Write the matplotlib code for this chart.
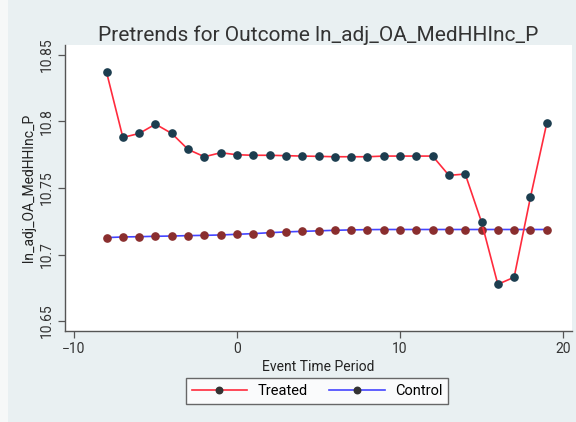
import matplotlib
matplotlib.use("Agg")
import matplotlib.pyplot as plt
from matplotlib.patches import Rectangle

plt.rcParams['font.family'] = ['Roboto', 'DejaVu Sans']

event_time = list(range(-8, 20))
treated = [10.837, 10.788, 10.791, 10.798, 10.791, 10.779, 10.7735, 10.7765,
           10.775, 10.7746, 10.7746, 10.7743, 10.774, 10.7738, 10.7735, 10.7735,
           10.7735, 10.774, 10.774, 10.774, 10.774, 10.7595, 10.7605, 10.7244,
           10.6776, 10.6829, 10.743, 10.7986]
control = [10.7127, 10.7132, 10.7134, 10.7137, 10.7139, 10.7142, 10.7144, 10.7147,
           10.7152, 10.7157, 10.7164, 10.7170, 10.7174, 10.7178, 10.7182, 10.7185,
           10.7187, 10.7188, 10.7188, 10.7188, 10.7188, 10.7188, 10.7188, 10.7188,
           10.7188, 10.7188, 10.7188, 10.7188]
xticks = [-10, 0, 10, 20]
yticks = [10.65, 10.7, 10.75, 10.8, 10.85]
ytick_labels = ["10.65", "10.7", "10.75", "10.8", "10.85"]

W, H = 576, 422
fig = plt.figure(figsize=(W / 100, H / 100), dpi=100)
fig.patch.set_facecolor('#e9f0f2')
fig.patches.append(Rectangle((0, 0), 8 / W, 1, transform=fig.transFigure,
                             facecolor='#f6f8f8', edgecolor='none', zorder=-1))

left, right, top, bottom = 65, 572, 45, 331
ax = fig.add_axes([left / W, 1 - bottom / H, (right - left) / W, (bottom - top) / H])
ax.set_facecolor('white')

ax.plot(event_time, treated, color='#ff2b3d', lw=1.2, marker='o', ms=5.2,
        mfc='#1c3d4f', mec='#1c3d4f', label='Treated', zorder=3)
ax.plot(event_time, control, color='#4545ff', lw=1.2, marker='o', ms=5.2,
        mfc='#8a2e2e', mec='#8a2e2e', label='Control', zorder=2)

ax.set_xlim(-10.55, 20.55)
ax.set_ylim(10.6425, 10.8575)
ax.set_xticks(xticks)
ax.set_yticks(yticks)
ax.set_yticklabels(ytick_labels, rotation=90, va='center')
for s in ['top', 'right']:
    ax.spines[s].set_visible(False)
for s in ['left', 'bottom']:
    ax.spines[s].set_color('#555555')
    ax.spines[s].set_linewidth(1.0)
ax.tick_params(direction='out', length=5, width=0.9, color='#555555',
               labelcolor='#333333', labelsize=10, pad=3)

ax.set_xlabel('Event Time Period', fontsize=10, color='#222222', labelpad=3)
ax.set_ylabel('ln_adj_OA_MedHHInc_P', fontsize=10, color='#222222', labelpad=3)
ax.set_title('Pretrends for Outcome ln_adj_OA_MedHHInc_P', fontsize=15,
             color='#333333', pad=3)

leg = fig.legend(loc='center', bbox_to_anchor=(317 / W, 1 - 391 / H), ncol=2,
                 fontsize=10.5, frameon=True, fancybox=False, handlelength=3.8,
                 handletextpad=0.7, columnspacing=1.5, borderpad=0.4,
                 markerscale=0.9)
leg.get_frame().set_edgecolor('#444444')
leg.get_frame().set_linewidth(1.0)
leg.get_frame().set_facecolor('white')
for h in leg.legend_handles:
    h.set_markerfacecolor('#333333')
    h.set_markeredgecolor('#333333')

fig.savefig('out.png', dpi=100, facecolor=fig.get_facecolor())
